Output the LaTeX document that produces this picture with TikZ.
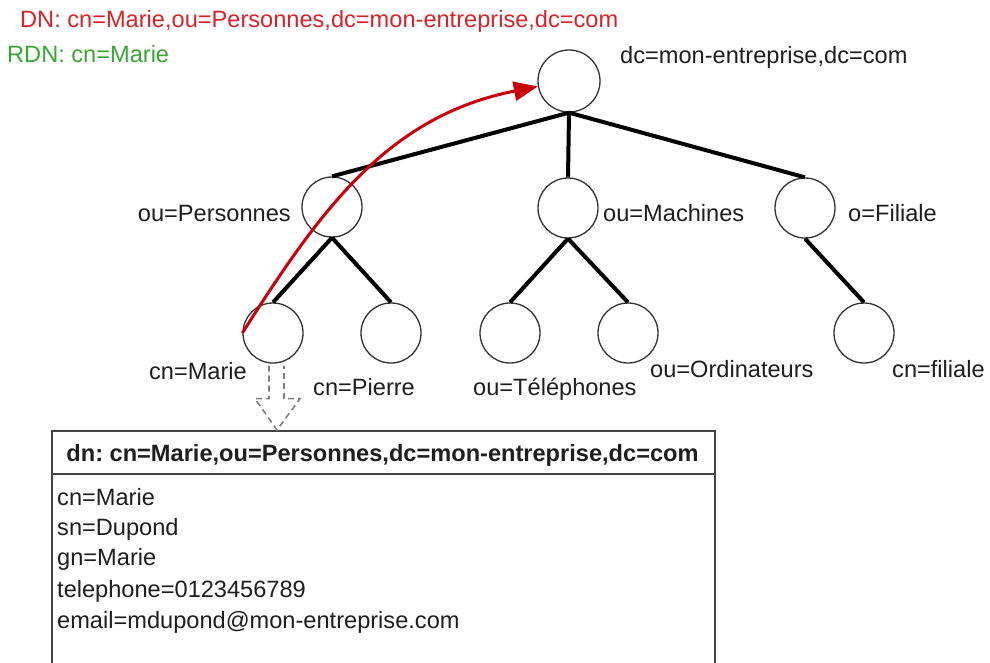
\documentclass[tikz,border=0pt]{standalone}
\usepackage{fontspec}
\setmainfont{Liberation Sans}
\usetikzlibrary{arrows.meta,calc}
\definecolor{txt}{HTML}{1E1E1E}
\definecolor{dnred}{HTML}{D8232A}
\definecolor{rdngreen}{HTML}{3AA535}
\definecolor{arrred}{HTML}{C8000A}
\definecolor{circ}{HTML}{333333}
\definecolor{boxc}{HTML}{444444}
\definecolor{dashc}{HTML}{808080}
\begin{document}
\begin{tikzpicture}[x=1pt,y=-1pt,
  every node/.style={font=\fontsize{23.6}{28}\selectfont\frenchspacing, text=txt, inner sep=0pt},
  dirnode/.style={circle, draw=circ, line width=1.3pt, minimum size=60pt, fill=white},
  rootnode/.style={dirnode, minimum size=62pt},
  treeedge/.style={line width=4pt, black},
  lbl/.style={anchor=base west},
  lble/.style={anchor=base east},
  entrybox/.style={draw=boxc, line width=1.8pt, anchor=north west, minimum width=663pt, minimum height=260pt},
  blockarrow/.style={draw=dashc, line width=1.6pt, dash pattern=on 6pt off 4pt},
  dnpath/.style={arrred, line width=3pt, -{Triangle[length=24pt,width=19pt]}}
]
\useasboundingbox (0,0) rectangle (990,662);
\clip (0,0) rectangle (990,662);

% tree nodes
\node[rootnode] (root) at (569,81) {};
\node[dirnode] (pers) at (332,207) {};
\node[dirnode] (mach) at (568,208) {};
\node[dirnode] (fil) at (805,208) {};
\node[dirnode] (marie) at (273,333) {};
\node[dirnode] (pierre) at (391,333) {};
\node[dirnode] (tel) at (510,333) {};
\node[dirnode] (ordi) at (628,333) {};
\node[dirnode] (cfil) at (864,333) {};

% edges
\draw[treeedge] (root.south) -- (pers.north);
\draw[treeedge] (root.south) -- (mach.north);
\draw[treeedge] (root.south) -- (fil.north);
\draw[treeedge] (pers.south) -- (marie.north);
\draw[treeedge] (pers.south) -- (pierre.north);
\draw[treeedge] (mach.south) -- (tel.north);
\draw[treeedge] (mach.south) -- (ordi.north);
\draw[treeedge] (fil.south) -- (cfil.north);

% labels
\node[lbl, text=dnred] (dn) at (20,27) {DN: cn=Marie,ou=Personnes,dc=mon-entreprise,dc=com};
\node[lbl, text=rdngreen] (rdn) at (7,62) {RDN: cn=Marie};
\node[lbl] (lroot) at (620,63) {dc=mon-entreprise,dc=com};
\node[lble] (lpers) at (291,221) {ou=Personnes};
\node[lbl] (lmach) at (603,221) {ou=Machines};
\node[lbl] (lfil) at (848,221) {o=Filiale};
\node[lble] (lmarie) at (247,379) {cn=Marie};
\node[lbl] (lpierre) at (313,395) {cn=Pierre};
\node[lbl] (ltel) at (473,395) {ou=Téléphones};
\node[lbl] (lordi) at (650,377) {ou=Ordinateurs};
\node[lbl] (lcfil) at (892,377) {cn=filiale};

% entry box
\node[entrybox] (entry) at (51,430) {};
\draw[draw=boxc, line width=1.8pt] (entry.west |- 0,474) -- (entry.east |- 0,474);
\node[anchor=base] (hdr) at (382.5,461) {\bfseries dn: cn=Marie,ou=Personnes,dc=mon-entreprise,dc=com};
\node[lbl] (a1) at (57,505) {cn=Marie};
\node[lbl] (a2) at (57,535) {sn=Dupond};
\node[lbl] (a3) at (57,565) {gn=Marie};
\node[lbl] (a4) at (57,597) {telephone=0123456789};
\node[lbl] (a5) at (57,628) {email=mdupond@mon-entreprise.com};

% dashed block arrow from Marie to entry
\coordinate (tipx) at ($(marie.south)+(4,0)$);
\coordinate (tip) at (tipx |- entry.north);
\coordinate (sl) at ($(marie.south)+(-4,2)$);
\coordinate (sr) at ($(marie.south)+(11,2)$);
\coordinate (bl) at ($(marie.south)+(-4,35)$);
\coordinate (br) at ($(marie.south)+(11,35)$);
\coordinate (hl) at ($(marie.south)+(-18,35)$);
\coordinate (hr) at ($(marie.south)+(27,35)$);
\draw[blockarrow] (sl) -- (bl) -- (hl) -- (tip) -- (hr) -- (br) -- (sr);

% red DN path
\draw[dnpath] (marie.west) .. controls (321,209) and (388,116) .. (root.190);
\end{tikzpicture}
\end{document}
